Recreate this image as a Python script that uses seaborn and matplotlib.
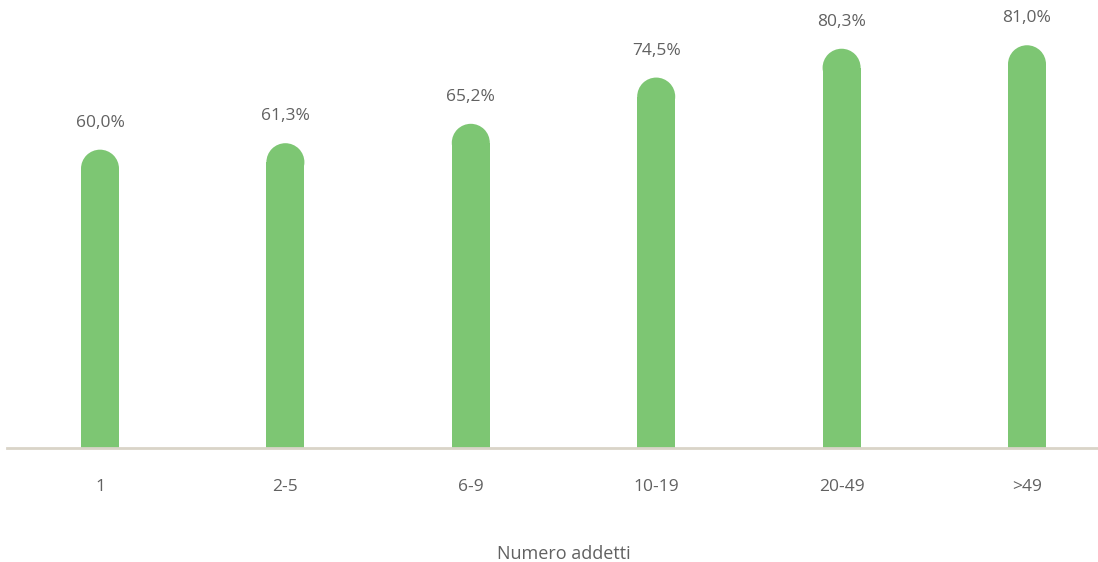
import matplotlib
matplotlib.use("Agg")
import matplotlib.pyplot as plt
import seaborn as sns
import pandas as pd
from matplotlib.patches import Ellipse

categories = ["1", "2-5", "6-9", "10-19", "20-49", ">49"]
values = [60.0, 61.3, 65.2, 74.5, 80.3, 81.0]
labels = ["60,0%", "61,3%", "65,2%", "74,5%", "80,3%", "81,0%"]

BAR_COLOR = "#7dc673"
TEXT_COLOR = "#616161"


def main():
    sns.set_theme(style="white")
    plt.rcParams["font.family"] = ["Open Sans", "DejaVu Sans"]

    df = pd.DataFrame({"addetti": categories, "quota": values})

    # category slot ~185 px wide; the axis runs a bit past the right edge
    slot = 185.4
    left_px = 100 - slot / 2
    fig = plt.figure(figsize=(10.98, 5.62), dpi=100)
    ax = fig.add_axes([left_px / 1098, 114 / 562, 6 * slot / 1098, 448 / 562])

    ylim_top = 90.1
    px_per_unit = 448 / ylim_top
    bar_w = 38 / slot
    r_units = 19 / px_per_unit

    sns.barplot(data=df, x="addetti", y="quota", color=BAR_COLOR,
                width=bar_w, saturation=1, ax=ax)

    # rounded tops: shorten the bar and put a half-circle cap on it
    for patch, v, lab in zip(ax.patches, values, labels):
        cx = patch.get_x() + patch.get_width() / 2
        patch.set_height(v - r_units)
        patch.set_edgecolor("none")
        cap = Ellipse((cx, v - r_units), bar_w, 2 * r_units,
                      facecolor=BAR_COLOR, edgecolor="none")
        ax.add_patch(cap)
        ax.text(cx, v + 27 / px_per_unit, lab, ha="center", va="center",
                fontsize=12.5, color=TEXT_COLOR)

    ax.set_xlim(-0.5, 5.5)
    ax.set_ylim(0, ylim_top)
    ax.set_yticks([])
    ax.set_ylabel("")
    ax.set_xlabel("Numero addetti", fontsize=13, color=TEXT_COLOR, labelpad=36)
    ax.tick_params(axis="x", length=0, pad=22, labelsize=12.5, labelcolor=TEXT_COLOR)
    for side in ["top", "right", "left"]:
        ax.spines[side].set_visible(False)
    ax.spines["bottom"].set_color("#d9d4c8")
    ax.spines["bottom"].set_linewidth(2)
    ax.set_facecolor("white")

    fig.savefig("out.png", dpi=100, facecolor="white")
    plt.close(fig)


if __name__ == "__main__":
    main()
